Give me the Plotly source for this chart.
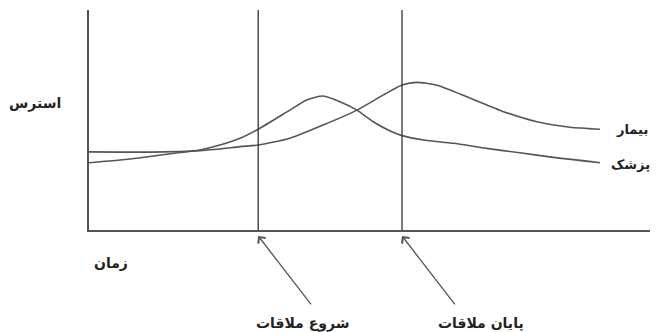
import plotly.graph_objects as go

# time axis (0-100) and stress (0-100)
patient_x = [0, 5.5, 10.8, 16.1, 19.7, 23.2, 26.8, 30.0, 35.6, 41.5, 47.5, 52.2, 55.5, 58.1,
             61.6, 67.6, 73.5, 79.4, 85.3, 90.6]
patient_y = [35.5, 35.4, 35.4, 35.7, 36.1, 36.8, 37.9, 38.6, 41.7, 47.7, 54.5, 61.4, 65.9, 67.1,
             65.9, 59.9, 53.8, 49.2, 46.7, 45.8]

doctor_x = [0, 5.5, 10.8, 16.1, 19.7, 23.2, 26.8, 30.0, 35.6, 38.6, 41.5, 44.5, 47.5, 50.4,
            53.4, 55.5, 59.3, 64.6, 70.5, 76.4, 82.3, 90.6]
doctor_y = [30.6, 31.8, 33.4, 35.2, 36.4, 38.6, 41.7, 45.8, 54.5, 59.1, 60.9, 58.3, 54.5, 49.2,
            45.0, 42.9, 40.9, 39.4, 37.1, 35.1, 33.0, 30.6]

meeting_times = [30.0, 55.5]
meeting_labels = ["شروع ملاقات", "پایان ملاقات"]
series_labels = ["بیمار", "پزشک"]
x_title = "زمان"
y_title = "استرس"

X_MAX = 100.0
Y_MAX = 100.0

line_col = "#555555"
font = dict(family="DejaVu Sans", size=14, color="#222222")
font_s = dict(family="DejaVu Sans", size=13, color="#222222")

fig = go.Figure()
fig.add_trace(go.Scatter(x=patient_x, y=patient_y, mode="lines",
                         line=dict(color=line_col, width=1.6, shape="spline", smoothing=0.6),
                         hoverinfo="skip"))
fig.add_trace(go.Scatter(x=doctor_x, y=doctor_y, mode="lines",
                         line=dict(color=line_col, width=1.6, shape="spline", smoothing=0.6),
                         hoverinfo="skip"))
for t in meeting_times:
    fig.add_trace(go.Scatter(x=[t, t], y=[0, Y_MAX], mode="lines",
                             line=dict(color="#333333", width=1.3), hoverinfo="skip"))

ann = []
# arrows pointing at the meeting lines just under the time axis
for t in meeting_times:
    ann.append(dict(x=t / X_MAX, y=-0.027, xref="paper", yref="paper", text="", showarrow=True,
                    ax=54, ay=70, arrowhead=4, arrowsize=1.4, arrowwidth=1.3,
                    arrowcolor="#555555"))
# meeting labels
label_x = [0.379, 0.695]
for lx, lab in zip(label_x, meeting_labels):
    ann.append(dict(x=lx, y=-0.423, xref="paper", yref="paper", text="<b>%s</b>" % lab,
                    showarrow=False, xanchor="center", yanchor="middle", font=font))
ann.append(dict(x=0.039, y=-0.15, xref="paper", yref="paper", text="<b>%s</b>" % x_title,
                showarrow=False, xanchor="center", yanchor="middle", font=font))
ann.append(dict(x=-0.096, y=0.577, xref="paper", yref="paper", text="<b>%s</b>" % y_title,
                showarrow=False, xanchor="center", yanchor="middle", font=font))
ann.append(dict(x=0.931, y=0.459, xref="paper", yref="paper", text="<b>%s</b>" % series_labels[0],
                showarrow=False, xanchor="left", yanchor="middle", font=font_s))
ann.append(dict(x=0.922, y=0.30, xref="paper", yref="paper", text="<b>%s</b>" % series_labels[1],
                showarrow=False, xanchor="left", yanchor="middle", font=font_s))

fig.update_layout(
    width=650, height=324,
    margin=dict(l=81, r=5, t=2, b=102),
    paper_bgcolor="white", plot_bgcolor="white",
    showlegend=False,
    annotations=ann,
    xaxis=dict(range=[0, X_MAX], showgrid=False, zeroline=False, showticklabels=False,
               ticks="", showline=True, linecolor=line_col, linewidth=1.6),
    yaxis=dict(range=[0, Y_MAX], showgrid=False, zeroline=False, showticklabels=False,
               ticks="", showline=True, linecolor=line_col, linewidth=1.6),
)

fig.write_html("out.html")
